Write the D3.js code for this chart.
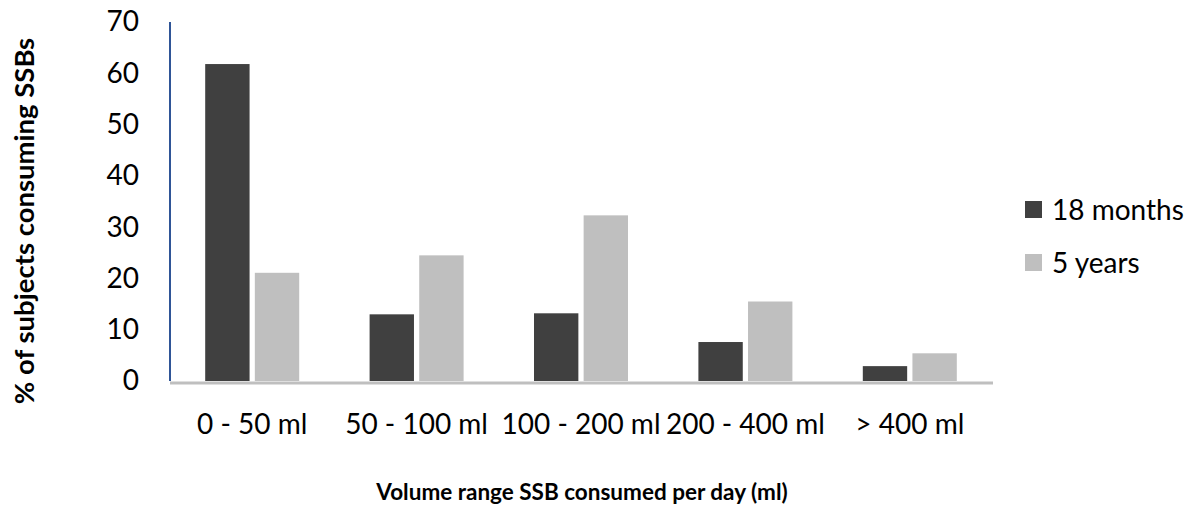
<!DOCTYPE html>
<html>
<head>
<meta charset="utf-8">
<script src="https://cdn.jsdelivr.net/npm/d3@7"></script>
<style>
    body { margin: 0; background: #fff; }
    svg text { font-family: Lato, "Open Sans", sans-serif; fill: #000; }
    .tick-label { font-size: 28px; }
    .x-title { font-size: 22.5px; font-weight: bold; }
    .y-title { font-size: 27.5px; font-weight: bold; }
</style>
</head>
<body>
<div id="chart"></div>
<script>
// Données
const categories = ['0 - 50 ml', '50 - 100 ml', '100 - 200 ml', '200 - 400 ml', '> 400 ml'];
const seriesNames = ['18 months', '5 years'];
const months18 = [61.8, 13.0, 13.2, 7.6, 2.9];
const years5 = [21.1, 24.5, 32.3, 15.5, 5.4];
const yTicks = [0, 10, 20, 30, 40, 50, 60, 70];
const colors = ['#404040', '#bfbfbf'];

const W = 1195, H = 508;
const margin = { top: 22, left: 170, right: 203, bottom: 127 };
const width = W - margin.left - margin.right,
      height = H - margin.top - margin.bottom;

const data = categories.map((c, i) => ({ cat: c, values: [months18[i], years5[i]] }));

const svg = d3.select('#chart')
    .append('svg')
    .attr('width', W)
    .attr('height', H);

const g = svg.append('g')
    .attr('transform', `translate(${margin.left},${margin.top})`);

const x = d3.scaleBand()
    .domain(categories)
    .range([0, width]);

const x1 = d3.scaleBand()
    .domain(seriesNames)
    .range([0, 94])
    .paddingInner(0.106);

const y = d3.scaleLinear()
    .domain([0, 70])
    .range([height, 0]);

// Barres
const groups = g.selectAll('.grp')
    .data(data)
    .enter()
    .append('g')
    .attr('class', 'grp')
    .attr('transform', d => `translate(${x(d.cat) + x.bandwidth() / 2 - 47},0)`);

groups.selectAll('rect')
    .data(d => d.values.map((v, i) => ({ name: seriesNames[i], value: v, i })))
    .enter()
    .append('rect')
    .attr('x', d => x1(d.name))
    .attr('y', d => y(d.value))
    .attr('width', x1.bandwidth())
    .attr('height', d => height - y(d.value))
    .attr('fill', d => colors[d.i]);

// Axe Y
const yAxis = d3.axisLeft(y)
    .tickValues(yTicks)
    .tickSize(0)
    .tickPadding(31);

const yG = g.append('g').call(yAxis);
yG.select('.domain').remove();
yG.selectAll('text')
    .attr('class', 'tick-label')
    .attr('font-family', null)
    .attr('font-size', null);

g.append('line')
    .attr('x1', 0).attr('x2', 0)
    .attr('y1', 0).attr('y2', height)
    .attr('stroke', '#2f5597')
    .attr('stroke-width', 2);

// Axe X
const xAxis = d3.axisBottom(x).tickSize(0).tickPadding(33);
const xG = g.append('g')
    .attr('transform', `translate(0,${height})`)
    .call(xAxis);
xG.select('.domain').remove();
xG.selectAll('text')
    .attr('class', 'tick-label')
    .attr('font-family', null)
    .attr('font-size', null);

g.append('line')
    .attr('x1', 0).attr('x2', width + 1)
    .attr('y1', height + 2).attr('y2', height + 2)
    .attr('stroke', '#bfbfbf')
    .attr('stroke-width', 3);

// Titres des axes
svg.append('text')
    .attr('class', 'x-title')
    .attr('text-anchor', 'middle')
    .attr('x', 582)
    .attr('y', 500)
    .text('Volume range SSB consumed per day (ml)');

svg.append('text')
    .attr('class', 'y-title')
    .attr('text-anchor', 'middle')
    .attr('transform', 'rotate(-90)')
    .attr('x', -221)
    .attr('y', 34)
    .text('% of subjects consuming SSBs');

// Légende
const legend = svg.append('g')
    .attr('transform', 'translate(1025,201)');

const items = legend.selectAll('.leg')
    .data(seriesNames)
    .enter()
    .append('g')
    .attr('class', 'leg')
    .attr('transform', (d, i) => `translate(0,${i * 53})`);

items.append('rect')
    .attr('width', 17)
    .attr('height', 17)
    .attr('fill', (d, i) => colors[i]);

items.append('text')
    .attr('class', 'tick-label')
    .attr('x', 27)
    .attr('y', 9)
    .attr('dy', '0.35em')
    .text(d => d);
</script>
</body>
</html>
